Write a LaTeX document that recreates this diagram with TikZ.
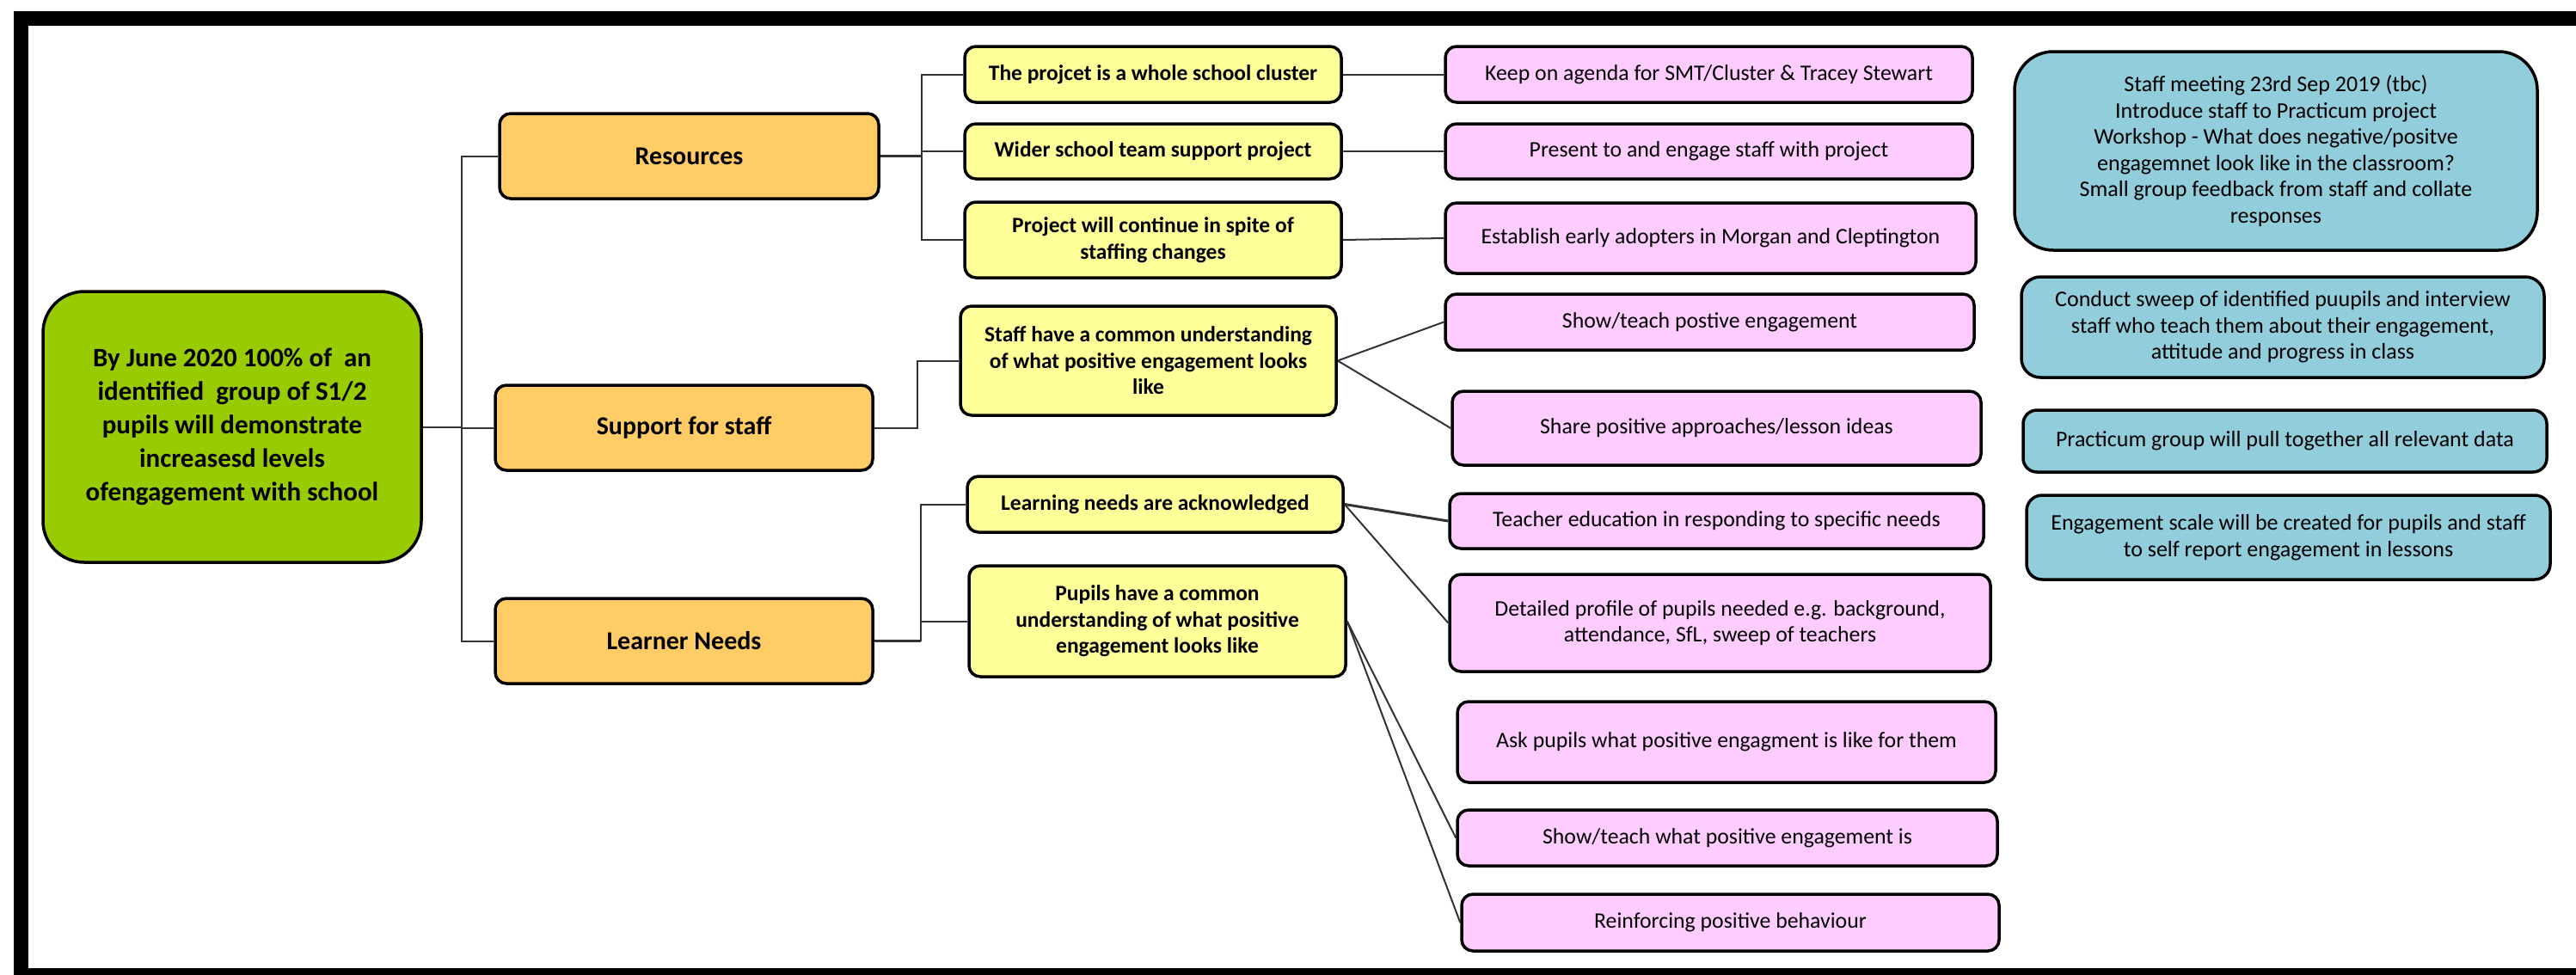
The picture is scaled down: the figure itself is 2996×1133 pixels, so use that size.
\documentclass[tikz,border=0pt]{standalone}
\usepackage{fontspec}
\setmainfont{Carlito}
\definecolor{goalgreen}{HTML}{99CC00}
\definecolor{orangebox}{HTML}{FFCC66}
\definecolor{yellowbox}{HTML}{FFFF99}
\definecolor{pinkbox}{HTML}{FFCCFF}
\definecolor{bluebox}{HTML}{92CDDC}
\definecolor{conn}{HTML}{333333}
\tikzset{
  box/.style={draw=black, line width=3.5pt, rounded corners=13pt, align=center, inner sep=0pt},
  goalbox/.style={box, fill=goalgreen, rounded corners=48pt, font=\bfseries\fontsize{31}{39}\selectfont},
  mainbox/.style={box, fill=orangebox, font=\bfseries\fontsize{30}{35}\selectfont},
  subbox/.style={box, fill=yellowbox, font=\bfseries\fontsize{25.5}{30.5}\selectfont},
  actbox/.style={box, fill=pinkbox, font=\fontsize{25.8}{29.5}\selectfont},
  notebox/.style={box, fill=bluebox, rounded corners=22pt, font=\fontsize{26}{30.5}\selectfont},
  link/.style={draw=conn, line width=2pt},
  thicklink/.style={draw=conn, line width=3pt}
}
\begin{document}
\begin{tikzpicture}[x=1pt,y=-1pt]
\useasboundingbox (0,0) rectangle (2996,1133);
\clip (0,0) rectangle (2996,1133);
\fill[white] (0,0) rectangle (2996,1133);
\draw[line width=17pt] (3050,21.5) -- (24.5,21.5) -- (24.5,1134.5) -- (3050,1134.5);

% goal and main boxes
\node[goalbox, minimum width=440pt, minimum height=315pt] (goal) at (270,496.5)
  {By June 2020 100\% of \ an\\identified \ group of S1/2\\pupils will demonstrate\\increasesd levels\\ofengagement with school};
\node[mainbox, minimum width=441pt, minimum height=99pt] (res) at (801.5,181.5) {Resources};
\node[mainbox, minimum width=439pt, minimum height=99pt] (sup) at (795.5,497.5) {Support for staff};
\node[mainbox, minimum width=439pt, minimum height=99pt] (ln) at (795.5,745.5) {Learner Needs};

% yellow boxes
\node[subbox, minimum width=438pt, minimum height=65pt] (y1) at (1341,86.5) {The projcet is a whole school cluster};
\node[subbox, minimum width=438pt, minimum height=64pt] (y2) at (1341,176) {Wider school team support project};
\node[subbox, minimum width=438pt, minimum height=88pt] (y3) at (1341,279) {Project will continue in spite of\\staffing changes};
\node[subbox, minimum width=437pt, minimum height=127pt] (y4) at (1335.5,419.5) {Staff have a common understanding\\of what positive engagement looks\\like};
\node[subbox, minimum width=437pt, minimum height=65pt] (y5) at (1343.5,586.5) {Learning needs are acknowledged};
\node[subbox, minimum width=438pt, minimum height=129pt] (y6) at (1346,722.5) {Pupils have a common\\understanding of what positive\\engagement looks like};

% pink boxes
\node[actbox, minimum width=613pt, minimum height=65pt] (p1) at (1987.5,86.5) {Keep on agenda for SMT/Cluster \& Tracey Stewart};
\node[actbox, minimum width=613pt, minimum height=64pt] (p2) at (1987.5,176) {Present to and engage staff with project};
\node[actbox, minimum width=617pt, minimum height=82pt] (p3) at (1989.5,277) {Establish early adopters in Morgan and Cleptington};
\node[actbox, minimum width=615pt, minimum height=65pt] (p4) at (1988.5,374.5) {Show/teach postive engagement};
\node[actbox, minimum width=615pt, minimum height=86pt] (p5) at (1996.5,498) {Share positive approaches/lesson ideas};
\node[actbox, minimum width=621pt, minimum height=64pt] (p6) at (1996.5,606) {Teacher education in responding to specific needs};
\node[actbox, minimum width=629pt, minimum height=113pt] (p7) at (2000.5,724.5) {Detailed profile of pupils needed e.g. background,\\attendance, SfL, sweep of teachers};
\node[actbox, minimum width=626pt, minimum height=94pt] (p8) at (2008,863) {Ask pupils what positive engagment is like for them};
\node[actbox, minimum width=628pt, minimum height=65pt] (p9) at (2009,974.5) {Show/teach what positive engagement is};
\node[actbox, minimum width=625pt, minimum height=66pt] (p10) at (2012.5,1073) {Reinforcing positive behaviour};

% blue boxes
\node[notebox, rounded corners=45pt, minimum width=608pt, minimum height=231pt] (b1) at (2647,175.5)
  {Staff meeting 23rd Sep 2019 (tbc)\\Introduce staff to Practicum project\\Workshop - What does negative/positve\\engagemnet look like in the classroom?\\Small group feedback from staff and collate\\responses};
\node[notebox, minimum width=608pt, minimum height=117pt] (b2) at (2655,380.5)
  {Conduct sweep of identified puupils and interview\\staff who teach them about their engagement,\\attitude and progress in class};
\node[notebox, rounded corners=16pt, minimum width=609pt, minimum height=72pt] (b3) at (2657.5,513)
  {Practicum group will pull together all relevant data};
\node[notebox, rounded corners=18pt, minimum width=609pt, minimum height=98pt] (b4) at (2661.5,625)
  {Engagement scale will be created for pupils and staff\\to self report engagement in lessons};

% branch coordinates
\coordinate (tr) at (537,0);
\coordinate (rb) at (1072,0);
\coordinate (sb) at (1067,0);
\coordinate (lb) at (1071,0);

% trunk
\draw[link] (goal.east) -- (goal.east -| tr);
\draw[link] (res.west) -- (res.west -| tr) -- (ln.west -| tr) -- (ln.west);
\draw[link] (sup.west) -- (sup.west -| tr);

% resources branch
\draw[thicklink] (res.east) -- (res.east -| rb);
\draw[link] (y1.west) -- (y1.west -| rb) -- (y3.west -| rb) -- (y3.west);
\draw[link] (y2.west) -- (y2.west -| rb);
\draw[link] (y1.east) -- (p1.west);
\draw[link] (y2.east) -- (p2.west);
\draw[link] (y3.east) -- (p3.west);

% support branch
\draw[link] (sup.east) -- (sup.east -| sb) |- (y4.west);
\draw[link] (y4.east) -- (p4.west);
\draw[link] (y4.east) -- (p5.west);

% learner needs branch
\draw[thicklink] (ln.east) -- (ln.east -| lb);
\draw[link] (ln.east -| lb) |- (y5.west);
\draw[link] (y6.west) -- (y6.west -| lb);
\draw[thicklink] (y5.east) -- (p6.west);
\draw[link] (y5.east) -- (p7.west);
\draw[link] (y6.east) -- (p9.west);
\draw[link] (y6.east) -- (p10.west);
\end{tikzpicture}
\end{document}
